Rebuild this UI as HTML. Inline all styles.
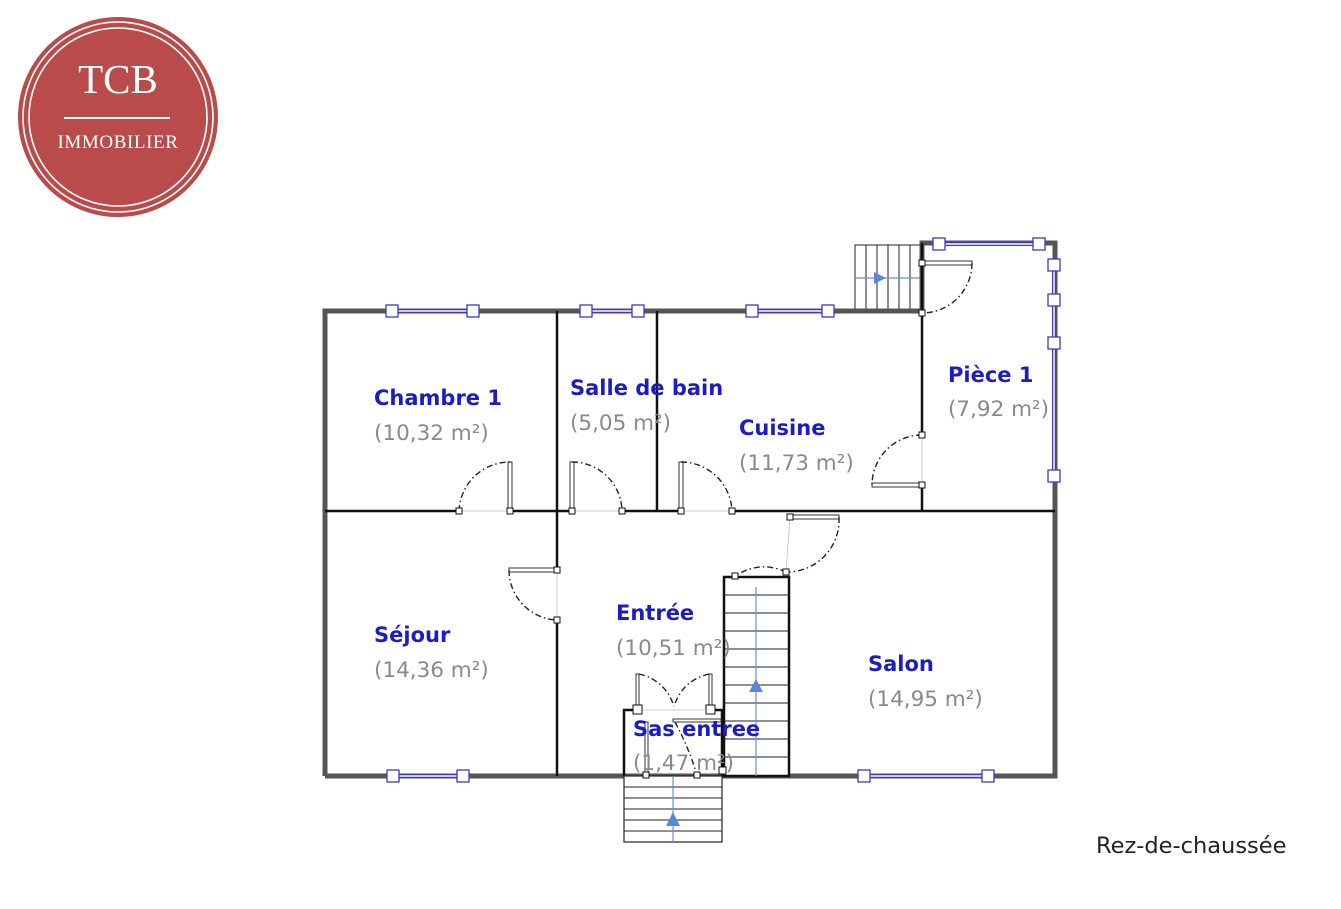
<!DOCTYPE html>
<html><head><meta charset="utf-8"><style>
html,body{margin:0;padding:0;background:#fff;}
svg{display:block;}
.t{font-family:"DejaVu Sans","Liberation Sans",sans-serif;font-weight:bold;font-size:21px;fill:#1c1cc4;}
.a{font-family:"DejaVu Sans","Liberation Sans",sans-serif;font-size:21.5px;fill:#8a8a8a;}
.ow{stroke:#555;stroke-width:5;fill:none;}
.iw{stroke:#111;stroke-width:2.5;fill:none;}
.win{stroke:#3a3ac8;stroke-width:4;fill:none;}
.wi{stroke:#fff;stroke-width:1.5;fill:none;}
.sq{fill:#fff;stroke:#3a3ac8;stroke-width:1.3;}
.hs{fill:#fff;stroke:#111;stroke-width:1;}
.arc{stroke:#222;stroke-width:1.4;fill:none;stroke-dasharray:6 3 1.5 3;}
.leaf{fill:#fff;stroke:#333;stroke-width:1;}
.st{stroke:#222;stroke-width:1;fill:none;}
.bl{stroke:#6a8fd8;stroke-width:1.2;}
</style></head><body>
<svg width="1341" height="909" viewBox="0 0 1341 909" xmlns="http://www.w3.org/2000/svg">
<!-- logo -->
<circle cx="118" cy="117" r="100" fill="#b94b4b"/>
<circle cx="118" cy="117" r="95" fill="none" stroke="#fff" stroke-width="1.6"/>
<circle cx="118" cy="117" r="89" fill="none" stroke="#fff" stroke-width="1.6"/>
<text x="118" y="93" text-anchor="middle" font-family="Liberation Serif,serif" font-size="41" fill="#fff">TCB</text>
<line x1="64" y1="118" x2="170" y2="118" stroke="#fff" stroke-width="2"/>
<text x="118" y="148" text-anchor="middle" font-family="Liberation Serif,serif" font-size="19" letter-spacing="0.6" fill="#fff">IMMOBILIER</text>

<!-- stairs top right -->
<rect x="855" y="245" width="65" height="66" fill="#fff" stroke="#222" stroke-width="1"/>
<g class="st"><line x1="866" y1="245" x2="866" y2="311"/><line x1="877" y1="245" x2="877" y2="311"/><line x1="888" y1="245" x2="888" y2="311"/><line x1="899" y1="245" x2="899" y2="311"/><line x1="910" y1="245" x2="910" y2="311"/></g>
<line x1="855" y1="278" x2="920" y2="278" class="bl"/>
<polygon points="874,272 886,278 874,284" fill="#5a86d8"/>

<!-- outer walls -->
<path class="ow" d="M325,776 L325,311 L922,311 M922,311 L922,243 L1055,243 L1055,776 L325,776"/>
<!-- interior walls -->
<g class="iw">
<line x1="325" y1="511" x2="459" y2="511"/><line x1="510" y1="511" x2="572" y2="511"/><line x1="622" y1="511" x2="681" y2="511"/><line x1="732" y1="511" x2="1055" y2="511"/>
<line x1="557" y1="311" x2="557" y2="570"/><line x1="557" y1="620" x2="557" y2="776"/>
<line x1="657" y1="311" x2="657" y2="511"/>
<line x1="922" y1="311" x2="922" y2="435"/><line x1="922" y1="485" x2="922" y2="511"/>
<line x1="922" y1="243" x2="922" y2="311"/>
</g>
<g stroke="#ccc" stroke-width="1"><line x1="459" y1="511" x2="510" y2="511"/><line x1="572" y1="511" x2="622" y2="511"/><line x1="681" y1="511" x2="732" y2="511"/><line x1="557" y1="570" x2="557" y2="620"/><line x1="922" y1="435" x2="922" y2="485"/><line x1="790" y1="517" x2="786" y2="572"/></g>

<!-- windows -->
<g>
<line class="win" x1="392" y1="311" x2="473" y2="311"/><line class="wi" x1="392" y1="311" x2="473" y2="311"/>
<line class="win" x1="586" y1="311" x2="638" y2="311"/><line class="wi" x1="586" y1="311" x2="638" y2="311"/>
<line class="win" x1="752" y1="311" x2="828" y2="311"/><line class="wi" x1="752" y1="311" x2="828" y2="311"/>
<line class="win" x1="939" y1="244" x2="1039" y2="244"/><line class="wi" x1="939" y1="244" x2="1039" y2="244"/>
<line class="win" x1="1054" y1="265" x2="1054" y2="476"/><line class="wi" x1="1054" y1="265" x2="1054" y2="476"/>
<line class="win" x1="393" y1="776" x2="463" y2="776"/><line class="wi" x1="393" y1="776" x2="463" y2="776"/>
<line class="win" x1="864" y1="776" x2="988" y2="776"/><line class="wi" x1="864" y1="776" x2="988" y2="776"/>
</g>
<g class="sq">
<rect x="386" y="305" width="12" height="12"/><rect x="467" y="305" width="12" height="12"/>
<rect x="580" y="305" width="12" height="12"/><rect x="632" y="305" width="12" height="12"/>
<rect x="746" y="305" width="12" height="12"/><rect x="822" y="305" width="12" height="12"/>
<rect x="933" y="238" width="12" height="12"/><rect x="1033" y="238" width="12" height="12"/>
<rect x="1048" y="259" width="12" height="12"/><rect x="1048" y="294" width="12" height="12"/><rect x="1048" y="337" width="12" height="12"/><rect x="1048" y="470" width="12" height="12"/>
<rect x="387" y="770" width="12" height="12"/><rect x="457" y="770" width="12" height="12"/>
<rect x="858" y="770" width="12" height="12"/><rect x="982" y="770" width="12" height="12"/>
</g>

<!-- doors -->
<rect class="leaf" x="508" y="462" width="4" height="49"/>
<path class="arc" d="M459,511 A51,51 0 0 1 510,462"/>
<rect class="leaf" x="570" y="462" width="4" height="49"/>
<path class="arc" d="M572,462 A50,50 0 0 1 622,511"/>
<rect class="leaf" x="679" y="462" width="4" height="49"/>
<path class="arc" d="M681,462 A51,51 0 0 1 732,511"/>
<rect class="leaf" x="509" y="568" width="48" height="4"/>
<path class="arc" d="M509,570 A50,50 0 0 0 557,620"/>
<rect class="leaf" x="922" y="261" width="50" height="4"/>
<path class="arc" d="M972,263 A50,50 0 0 1 922,313"/>
<rect class="leaf" x="872" y="483" width="50" height="4"/>
<path class="arc" d="M922,435 A50,50 0 0 0 872,485"/>
<rect class="leaf" x="790" y="515" width="49" height="4"/>
<path class="arc" d="M839,517 A52,52 0 0 1 786,572"/>
<path class="arc" d="M786,572 Q760,560 735,576"/>

<!-- main stairs -->
<rect x="724" y="577" width="65" height="199" fill="#fff" stroke="#111" stroke-width="2.5"/>
<g class="st">
<line x1="724" y1="595" x2="789" y2="595"/><line x1="724" y1="613" x2="789" y2="613"/><line x1="724" y1="631" x2="789" y2="631"/><line x1="724" y1="649" x2="789" y2="649"/><line x1="724" y1="667" x2="789" y2="667"/><line x1="724" y1="685" x2="789" y2="685"/><line x1="724" y1="703" x2="789" y2="703"/><line x1="724" y1="721" x2="789" y2="721"/><line x1="724" y1="739" x2="789" y2="739"/><line x1="724" y1="757" x2="789" y2="757"/>
</g>
<line x1="756" y1="587" x2="756" y2="776" class="bl"/>
<polygon points="749,692 763,692 756,679" fill="#5a86d8"/>

<!-- sas -->
<path d="M624,776 L624,710 L637,710 M710,710 L722,710 L722,776" stroke="#111" stroke-width="2.5" fill="none"/>
<line x1="637" y1="710" x2="710" y2="710" stroke="#ccc"/>
<rect class="leaf" x="636" y="674" width="3" height="36"/><rect class="leaf" x="709" y="674" width="3" height="36"/>
<path class="arc" d="M639,674 Q665,680 674,706"/><path class="arc" d="M709,674 Q683,680 674,706"/>
<rect class="leaf" x="673" y="719" width="48" height="3"/>
<rect class="leaf" x="645" y="722" width="3" height="54"/>
<path class="arc" d="M675,722 Q690,750 697,776"/>
<!-- outer steps -->
<rect x="624" y="776" width="98" height="66" fill="#fff" stroke="#222" stroke-width="1.2"/>
<g class="st"><line x1="624" y1="787" x2="722" y2="787"/><line x1="624" y1="798" x2="722" y2="798"/><line x1="624" y1="809" x2="722" y2="809"/><line x1="624" y1="820" x2="722" y2="820"/><line x1="624" y1="831" x2="722" y2="831"/></g>
<line x1="673" y1="776" x2="673" y2="842" class="bl"/>
<polygon points="666,826 680,826 673,812" fill="#5a86d8"/>

<g class="hs">
<rect x="456" y="508" width="6" height="6"/><rect x="507" y="508" width="6" height="6"/><rect x="569" y="508" width="6" height="6"/><rect x="619" y="508" width="6" height="6"/><rect x="678" y="508" width="6" height="6"/><rect x="729" y="508" width="6" height="6"/>
<rect x="554" y="567" width="6" height="6"/><rect x="554" y="617" width="6" height="6"/>
<rect x="919" y="432" width="6" height="6"/><rect x="919" y="482" width="6" height="6"/><rect x="919" y="260" width="6" height="6"/><rect x="919" y="310" width="6" height="6"/>
<rect x="787" y="514" width="6" height="6"/><rect x="783" y="569" width="6" height="6"/><rect x="732" y="573" width="6" height="6"/>
<rect x="633" y="705" width="9" height="9"/><rect x="706" y="705" width="9" height="9"/>
<rect x="643" y="772" width="6" height="6"/><rect x="694" y="772" width="6" height="6"/><rect x="719" y="767" width="7" height="7"/>
</g>

<!-- labels -->
<text class="t" x="374" y="405">Chambre 1</text><text class="a" x="374" y="440">(10,32 m²)</text>
<text class="t" x="570" y="395">Salle de bain</text><text class="a" x="570" y="430">(5,05 m²)</text>
<text class="t" x="739" y="435">Cuisine</text><text class="a" x="739" y="470">(11,73 m²)</text>
<text class="t" x="948" y="382">Pièce 1</text><text class="a" x="948" y="416">(7,92 m²)</text>
<text class="t" x="374" y="642">Séjour</text><text class="a" x="374" y="677">(14,36 m²)</text>
<text class="t" x="616" y="620">Entrée</text><text class="a" x="616" y="655">(10,51 m²)</text>
<text class="t" x="868" y="671">Salon</text><text class="a" x="868" y="706">(14,95 m²)</text>
<text class="t" x="633" y="736">Sas entree</text><text class="a" x="633" y="770">(1,47 m²)</text>
<text x="1096" y="853" font-family="DejaVu Sans,Liberation Sans,sans-serif" font-size="22.5" fill="#222">Rez-de-chaussée</text>
</svg>
</body></html>
